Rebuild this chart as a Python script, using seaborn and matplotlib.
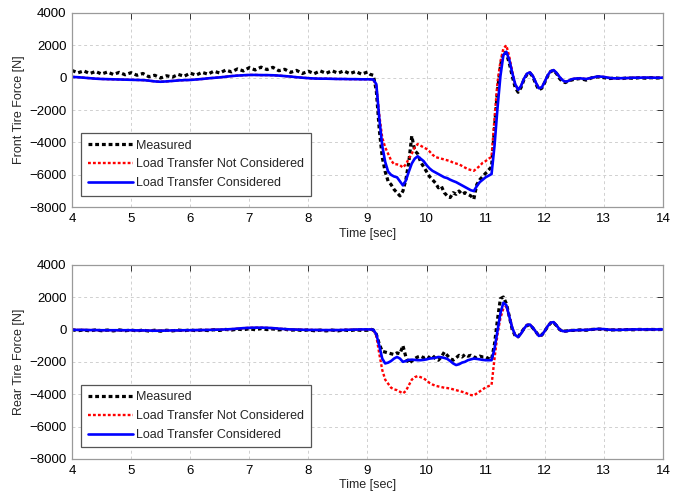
import numpy as np
import pandas as pd
import matplotlib
matplotlib.use("Agg")
import matplotlib.pyplot as plt
import seaborn as sns

# ---------------- data ----------------
time_s = np.round(np.concatenate([np.linspace(4.0, 8.9, 50),
                                  np.linspace(9.0, 12.45, 70),
                                  np.linspace(12.5, 14.0, 16)]), 2)

series_names = ["Measured", "Load Transfer Not Considered", "Load Transfer Considered"]

front_pre_lt = [50, 30, 0, -30, -60, -80, -90, -100, -110, -120,
                -130, -140, -150, -180, -230, -250, -230, -200, -170, -150,
                -140, -110, -80, -40, -10, 20, 60, 100, 130, 150,
                170, 170, 160, 160, 150, 130, 100, 70, 30, 0,
                -30, -50, -60, -60, -70, -80, -80, -90, -90, -100]

front_tail = [-60, -40, -80, 0, 80, 50, -20, -40, -30, -20, 0, 0, 10, 0, 0, 0]

front_lt = front_pre_lt + [
    -100, -100, -120, -400, -2500, -4200, -5200, -5800, -6000, -6100,
    -6150, -6400, -6650, -6350, -5800, -5300, -5000, -4850, -5000, -5150,
    -5400, -5600, -5750, -5850, -5950, -6050, -6150, -6200, -6300, -6380,
    -6450, -6550, -6650, -6750, -6850, -6950, -7000, -6700, -6450, -6300,
    -6150, -6050, -5950, -4200, -1900, 100, 1400, 1600, 1100, 300,
    -400, -750, -500, -50, 250, 330, 100, -300, -650, -600,
    -250, 150, 400, 470, 300, 50, -150, -250, -200, -100] + front_tail

front_nolt = front_pre_lt + [
    -100, -100, -120, -500, -2300, -3700, -4300, -4700, -5100, -5350,
    -5350, -5400, -5550, -5350, -5000, -4700, -4300, -4100, -4200, -4300,
    -4400, -4550, -4750, -4900, -4950, -5000, -5050, -5100, -5150, -5250,
    -5300, -5350, -5450, -5550, -5650, -5700, -5750, -5600, -5450, -5250,
    -5150, -5000, -4900, -2500, -300, 1000, 1800, 2000, 1300, 400,
    -400, -750, -500, -50, 250, 330, 100, -300, -650, -600,
    -250, 150, 400, 470, 300, 50, -150, -250, -200, -100] + front_tail

front_meas = [
    450, 300, 420, 260, 380, 230, 350, 200, 330, 180,
    310, 150, 260, 60, 150, -20, 120, 40, 200, 90,
    280, 160, 330, 220, 400, 290, 470, 360, 540, 420,
    620, 480, 650, 500, 640, 430, 520, 330, 450, 260,
    400, 250, 420, 270, 430, 280, 420, 250, 380, 220,
    350, 200, 150, -800, -3200, -4900, -5800, -6400, -6600, -6900,
    -7100, -7300, -7000, -6300, -5200, -3600, -4500, -4700, -5200, -5500,
    -5800, -6100, -6300, -6500, -6800, -6700, -7100, -7300, -7400, -7100,
    -7200, -7000, -7200, -7100, -7200, -7300, -7500, -6600, -6300, -6100,
    -5900, -5700, -5500, -3100, -800, 700, 1600, 1500, 900, 100,
    -600, -900, -600, -100, 200, 300, 50, -400, -750, -650,
    -300, 100, 380, 450, 250, -50, -250, -300, -200, -150,
    -100, -50, -150, 0, 50, 0, -50, -20, -60, -10, -40, 0, -30, 0, -20, 0]

rear_pre_lt = [-20, -30, -30, -40, -40, -50, -50, -50, -50, -50,
               -50, -60, -60, -70, -80, -80, -70, -60, -60, -50,
               -50, -40, -40, -30, -20, -10, 0, 20, 50, 80,
               100, 110, 110, 100, 80, 50, 20, 0, -10, -20,
               -30, -30, -40, -40, -40, -40, -30, -20, -10, 0]

rear_tail = [-50, -40, -30, 0, 30, 20, -20, -30, -20, -10, 0, 0, 0, 0, 0, 0]

rear_common_osc = [-350, -470, -250, 50, 280, 300, 100, -150, -400, -350,
                   -100, 200, 420, 450, 250, 0, -100, -120, -80, -60]

rear_lt = rear_pre_lt + [
    0, 0, -20, -300, -1000, -1800, -2100, -2050, -1950, -1800,
    -1700, -1800, -2000, -1950, -1880, -1870, -1880, -1900, -1900, -1880,
    -1850, -1800, -1780, -1750, -1700, -1720, -1760, -1820, -1950, -2100,
    -2200, -2150, -2050, -2000, -1900, -1850, -1800, -1820, -1850, -1880,
    -1900, -1900, -1900, -1200, -100, 1000, 1650, 1500, 800, 100] + rear_common_osc + rear_tail

rear_nolt = rear_pre_lt + [
    0, 0, -20, -400, -1500, -2500, -3100, -3350, -3600, -3700,
    -3750, -3850, -3950, -3800, -3450, -3100, -2950, -2880, -2950, -3020,
    -3150, -3300, -3400, -3480, -3520, -3560, -3600, -3620, -3650, -3700,
    -3750, -3800, -3850, -3900, -3980, -4050, -4080, -3950, -3830, -3700,
    -3580, -3500, -3430, -1800, -300, 700, 1300, 1450, 800, 100] + rear_common_osc + rear_tail

rear_meas = [
    -20, -80, -30, -90, -30, -80, -40, -90, -30, -80,
    -40, -90, -40, -100, -50, -110, -50, -90, -40, -80,
    -30, -80, -30, -70, -20, -60, 0, -40, 20, -20,
    40, -20, 50, -10, 30, -30, 10, -50, -20, -70,
    -30, -80, -40, -90, -40, -90, -30, -80, -20, -60,
    -50, 20, -40, -300, -900, -1350, -1400, -1450, -1500, -1550,
    -1450, -1500, -1000, -1700, -2100, -1950, -1800, -1700, -1650, -1750,
    -1650, -1750, -1600, -1800, -1900, -1700, -1400, -1600, -1800, -1900,
    -1750, -1600, -1700, -1550, -1650, -1600, -1700, -1750, -1650, -1700,
    -1700, -1800, -1850, -900, 600, 1900, 2000, 1600, 800, 0,
    -400, -450, -200, 50, 250, 280, 80, -150, -380, -350,
    -100, 180, 400, 420, 230, 0, -120, -100, -80, -60,
    -60, -30, -50, 0, 20, 0, -40, -20, -30, -10, -20, 0, -10, 0, -10, 0]

y_ticks = [-8000, -6000, -4000, -2000, 0, 2000, 4000]
x_ticks = [4, 5, 6, 7, 8, 9, 10, 11, 12, 13, 14]

# ---------------- plotting ----------------
sns.set_style("white")
plt.rcParams["font.family"] = ["Liberation Sans", "DejaVu Sans"]

fig = plt.figure(figsize=(6.92, 4.97), dpi=100)
ax_top = fig.add_axes([0.104, 0.583, 0.854, 0.391])
ax_bot = fig.add_axes([0.104, 0.0765, 0.854, 0.391])

styles = {
    "Measured": dict(color="black", linestyle=(0, (1.2, 0.9)), linewidth=2.3),
    "Load Transfer Not Considered": dict(color="red", linestyle=(0, (1.2, 0.9)), linewidth=1.7),
    "Load Transfer Considered": dict(color="blue", linestyle="-", linewidth=1.9),
}

panels = [
    (ax_top, [front_meas, front_nolt, front_lt], "Front Tire Force [N]"),
    (ax_bot, [rear_meas, rear_nolt, rear_lt], "Rear Tire Force [N]"),
]

for ax, vals, ylab in panels:
    for name, v in zip(series_names, vals):
        df = pd.DataFrame({"t": time_s, "F": v})
        sns.lineplot(data=df, x="t", y="F", ax=ax, label=name,
                     estimator=None, **styles[name])
    ax.set_xlim(4, 14)
    ax.set_ylim(-8000, 4000)
    ax.set_xticks(x_ticks)
    ax.set_yticks(y_ticks)
    ax.set_xlabel("Time [sec]", fontsize=9, labelpad=2)
    ax.set_ylabel(ylab, fontsize=9, labelpad=3)
    ax.grid(True, color="#d0d0d0", linestyle=(0, (3, 3)), linewidth=0.7)
    ax.tick_params(direction="in", length=4, width=0.7, colors="#333333",
                   labelsize=9.5, top=True, right=True, pad=4)
    ax.tick_params(axis="both", labelcolor="black")
    for sp in ax.spines.values():
        sp.set_color("#9a9a9a")
        sp.set_linewidth(0.9)
    leg = ax.legend(loc="lower left", bbox_to_anchor=(0.016, 0.06),
                    fontsize=9, fancybox=False, framealpha=1,
                    edgecolor="#555555", handlelength=3.6, handletextpad=0.3,
                    borderpad=0.5, labelspacing=0.55, borderaxespad=0)
    leg.get_frame().set_linewidth(0.9)

fig.savefig("out.png", dpi=100)
